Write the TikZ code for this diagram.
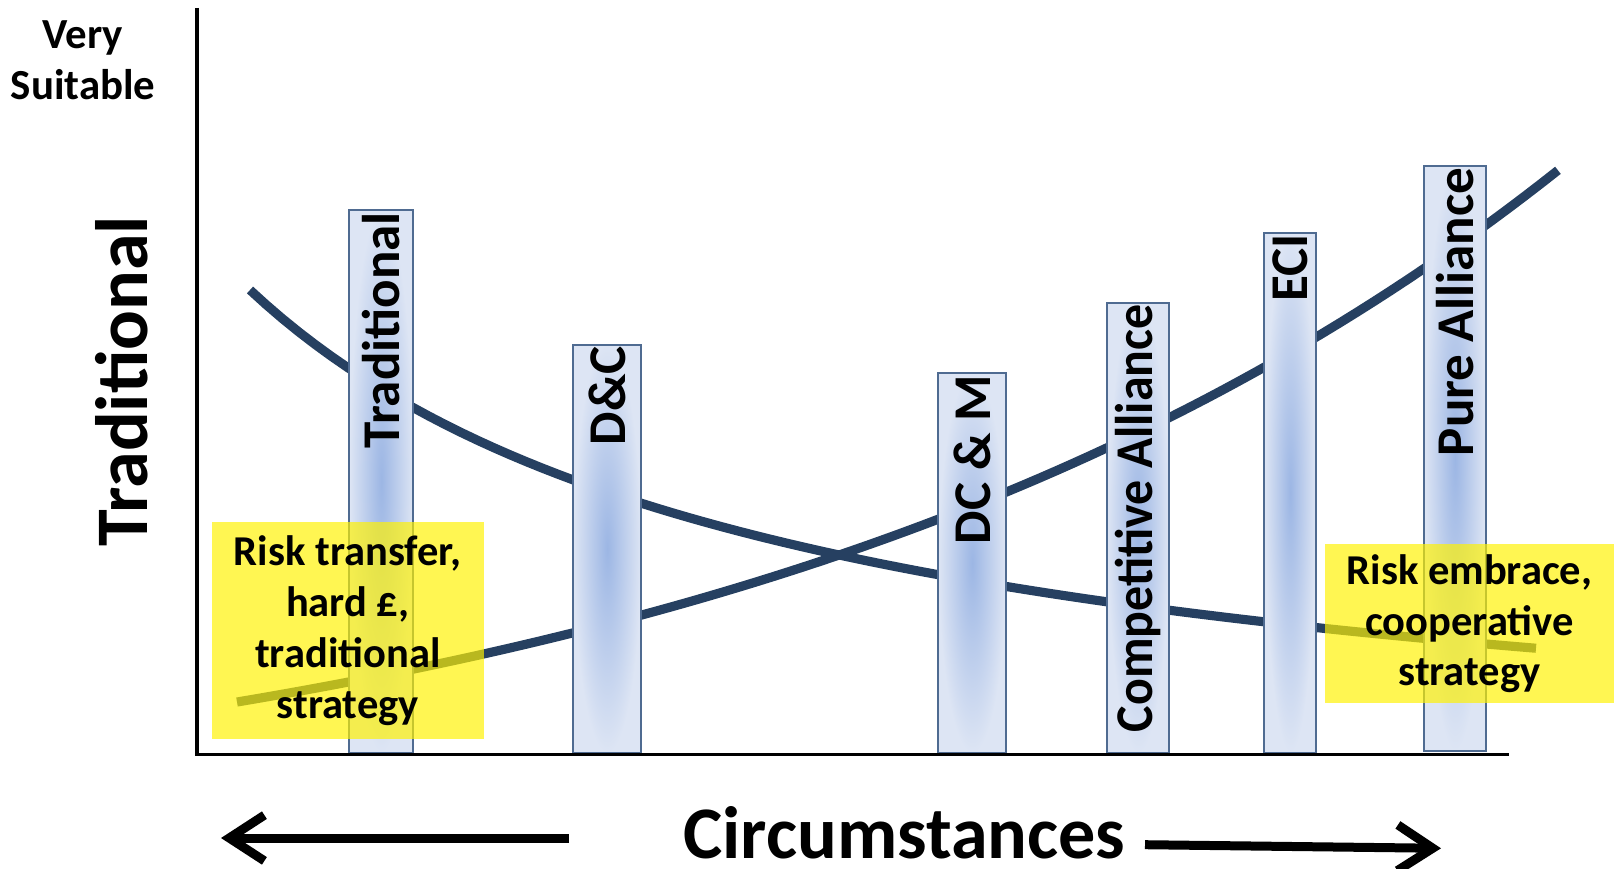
\documentclass[tikz,border=0pt]{standalone}
\usepackage{fontspec}
\setmainfont{Carlito}
\usepackage{tikz}
\usetikzlibrary{arrows.meta,positioning}
\definecolor{curveblue}{RGB}{38,64,97}
\definecolor{barline}{RGB}{79,107,145}
\definecolor{barlight}{RGB}{221,229,244}
\definecolor{bardark}{RGB}{156,182,228}

\begin{document}
\begin{tikzpicture}[
  bar/.style={draw=barline, line width=0.6pt, inner color=bardark,
              outer color=barlight, inner sep=0pt, anchor=south},
  barlbl/.style={rotate=90, anchor=east, inner sep=0pt,
              font=\fontsize{15.1}{18}\selectfont\bfseries},
  curve/.style={curveblue, line width=2.6pt},
  note/.style={fill=yellow, fill opacity=0.68, text opacity=1,
              align=center, inner sep=0pt,
              font=\fontsize{12.1}{14.5}\selectfont\bfseries},
  big/.style={font=\fontsize{21.1}{25}\selectfont\bfseries},
  arr/.style={-{Straight Barb[length=10pt,width=13pt]},
              line width=2.56pt}
]
\useasboundingbox (0,0) rectangle (16.14,8.68);
% Axes
\coordinate (O) at (1.97,1.135);
\coordinate (ytop) at (1.97,8.60);
\coordinate (xend) at (15.09,1.135);
% Curves
\draw[curve] plot[domain=2.5:15.36, samples=80]
  (\x, {0.681+27.76/(\x+2.944)});
\draw[curve] plot[domain=2.37:15.58, samples=80]
  (\x, {0.231+1.0817*exp(0.1175*\x)});
% Bars
\node[bar, minimum width=0.64cm, minimum height=5.426cm]
  (trad) at (3.813,1.14) {};
\node[bar, minimum width=0.677cm, minimum height=4.083cm]
  (dc) at (6.072,1.14) {};
\node[bar, minimum width=0.677cm, minimum height=3.797cm]
  (dcm) at (9.722,1.14) {};
\node[bar, minimum width=0.617cm, minimum height=4.503cm]
  (comp) at (11.382,1.14) {};
\node[bar, minimum width=0.517cm, minimum height=5.203cm]
  (eci) at (12.902,1.14) {};
\node[bar, minimum width=0.614cm, minimum height=5.851cm]
  (pure) at (14.55,1.16) {};
\node[barlbl] (tradlbl) at ([yshift=-0.6pt]trad.north) {Traditional};
\node[barlbl] (dclbl) at ([yshift=-0.6pt]dc.north) {D\&C};
\node[barlbl] (dcmlbl) at ([yshift=-0.6pt]dcm.north) {DC \& M};
\node[barlbl, xscale=0.94] (complbl) at ([yshift=-0.6pt]comp.north)
  {Competitive Alliance};
\node[barlbl] (ecilbl) at ([yshift=-0.6pt]eci.north) {ECI};
\node[barlbl] (purelbl) at ([yshift=-0.6pt]pure.north) {Pure Alliance};
% Notes
\node[note, minimum width=2.723cm, minimum height=2.174cm]
  (risktr) at (3.478,2.373) {Risk transfer,\\hard £,\\traditional\\strategy};
\node[note, minimum width=2.89cm, minimum height=1.595cm]
  (riskem) at (14.695,2.443) {Risk embrace,\\cooperative\\strategy};
\draw[line width=1pt] (ytop) -- (O) -- (xend);
% Labels
\node[align=center, font=\fontsize{12.2}{14.5}\selectfont\bfseries]
  (suit) at (0.83,8.08) {Very\\Suitable};
\node[big, rotate=90] (ylbl) at (1.22,4.87) {Traditional};
\node[big, anchor=base, inner sep=0pt] (circ) at (9.045,0.10)
  {Circumstances};
\coordinate (lstart) at (5.69,0.30);
\coordinate (ltip) at (2.21,0.30);
\coordinate (rstart) at (11.45,0.233);
\coordinate (rtip) at (14.41,0.197);
\draw[arr] (lstart) -- (ltip);
\draw[arr] (rstart) -- (rtip);
\end{tikzpicture}
\end{document}
